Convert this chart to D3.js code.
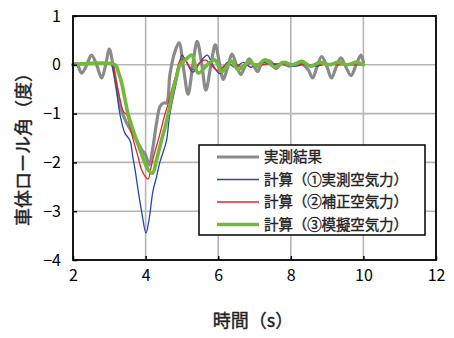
<!DOCTYPE html>
<html>
<head>
<meta charset="utf-8">
<script src="https://cdn.jsdelivr.net/npm/d3@7"></script>
<style>
  body { margin: 0; background: #fff; }
  text { font-family: "Noto Sans CJK JP", "Liberation Sans", sans-serif; }
</style>
</head>
<body>
<div id="chart"></div>
<script>
// tick values
var xTicks = [2, 4, 6, 8, 10, 12];
var yTicks = [1, 0, -1, -2, -3, -4];

// 実測結果 (measured)
var measuredTime = [2.0, 2.1, 2.24, 2.38, 2.51, 2.65, 2.79, 2.9, 3.0, 3.1, 3.2, 3.3, 3.45, 3.6, 3.75, 3.9, 4.0, 4.1, 4.2, 4.3, 4.4, 4.5, 4.58, 4.67, 4.8, 4.92, 5.05, 5.17, 5.3, 5.42, 5.55, 5.66, 5.8, 5.92, 6.03, 6.14, 6.26, 6.38, 6.5, 6.62, 6.73, 6.85, 6.97, 7.08, 7.18, 7.3, 7.45, 7.6, 7.75, 7.95, 8.15, 8.35, 8.48, 8.6, 8.72, 8.85, 9.0, 9.12, 9.25, 9.38, 9.52, 9.66, 9.8, 9.93, 10.0];
var measuredRoll = [0, 0.02, -0.17, 0.0, 0.2, 0.0, -0.27, 0.0, 0.32, 0.0, -0.45, -0.85, -1.15, -1.35, -1.55, -1.75, -1.85, -2.05, -1.7, -1.2, -0.85, -0.78, -0.78, -0.2, 0.25, 0.45, -0.1, -0.6, 0.0, 0.48, 0.0, -0.52, 0.0, 0.41, 0.05, -0.3, -0.05, 0.22, 0.0, -0.2, -0.05, 0.12, 0.0, -0.14, 0.0, 0.08, 0.06, -0.08, 0.04, -0.03, 0.02, 0.0, -0.1, -0.27, -0.05, 0.17, -0.05, -0.27, -0.05, 0.14, -0.05, -0.22, 0.0, 0.2, 0.05];

// 計算(①実測空気力)
var calc1Time = [2.0, 3.05, 3.1, 3.2, 3.29, 3.43, 3.57, 3.65, 3.71, 3.8, 3.9, 4.01, 4.1, 4.2, 4.3, 4.4, 4.5, 4.58, 4.65, 4.75, 4.85, 4.92, 5.0, 5.1, 5.3, 5.5, 5.7, 5.85, 6.05, 6.25, 6.45, 6.7, 6.9, 7.2, 7.5, 7.8, 8.1, 8.4, 8.7, 9.0, 9.3, 9.6, 10.0];
var calc1Roll = [0.02, 0, -0.1, -0.5, -1.0, -1.4, -1.55, -1.9, -2.15, -2.6, -3.05, -3.45, -3.15, -2.6, -2.3, -1.98, -1.75, -1.54, -1.1, -0.7, -0.35, -0.05, 0.2, 0.1, -0.15, 0.05, 0.2, 0.0, -0.18, 0.05, -0.05, 0.05, -0.05, 0.05, 0.0, 0.03, -0.03, 0.02, -0.03, 0.03, 0.0, 0.02, 0.0];

// 計算(②補正空気力)
var calc2Time = [2.0, 3.08, 3.15, 3.25, 3.39, 3.48, 3.55, 3.66, 3.78, 3.89, 4.0, 4.07, 4.15, 4.25, 4.35, 4.45, 4.53, 4.62, 4.72, 4.82, 4.9, 4.98, 5.1, 5.3, 5.5, 5.65, 5.8, 6.0, 6.2, 6.4, 6.6, 6.9, 7.2, 7.5, 7.8, 8.2, 8.6, 9.0, 9.5, 10.0];
var calc2Roll = [0, 0, -0.2, -0.55, -0.96, -1.02, -1.2, -1.54, -1.85, -2.15, -2.3, -2.34, -2.1, -1.8, -1.54, -1.25, -1.02, -0.8, -0.51, -0.25, 0.0, 0.12, 0.08, -0.1, 0.05, 0.1, 0.0, -0.12, 0.0, 0.05, -0.03, 0.03, 0.0, 0.03, 0.0, 0.02, -0.02, 0.02, 0.0, 0.0];

// 計算(③模擬空気力)
var calc3Time = [2.0, 3.16, 3.25, 3.34, 3.43, 3.52, 3.63, 3.75, 3.9, 4.07, 4.19, 4.3, 4.44, 4.53, 4.62, 4.76, 4.85, 4.95, 5.1, 5.27, 5.45, 5.7, 5.91, 6.1, 6.37, 6.55, 6.87, 7.05, 7.29, 7.56, 7.8, 8.05, 8.3, 8.55, 8.8, 9.05, 9.3, 9.55, 9.8, 10.0];
var calc3Roll = [0, 0, -0.15, -0.37, -0.7, -1.02, -1.28, -1.54, -1.85, -2.15, -2.22, -1.95, -1.54, -1.3, -1.02, -0.51, -0.25, 0.0, 0.1, 0.2, -0.17, 0.0, 0.1, -0.14, 0.07, -0.1, 0.07, -0.03, 0.1, -0.05, 0.05, 0.0, 0.07, -0.03, 0.05, 0.0, 0.05, 0.0, 0.05, 0.0];

var seriesNames = ["実測結果", "計算(①実測空気力)", "計算(②補正空気力)", "計算(③模擬空気力)"];
var legendLabels = ["実測結果", "計算（①実測空気力）", "計算（②補正空気力）", "計算（③模擬空気力）"];

var series = [
  {name: seriesNames[0], t: measuredTime, v: measuredRoll, color: "#8a8a8a", width: 3.2},
  {name: seriesNames[1], t: calc1Time, v: calc1Roll, color: "#2447a8", width: 1.3},
  {name: seriesNames[2], t: calc2Time, v: calc2Roll, color: "#e52328", width: 1.3},
  {name: seriesNames[3], t: calc3Time, v: calc3Roll, color: "#72b83a", width: 3.6}
];

var width = 454, height = 338;
var svg = d3.select("#chart").append("svg").attr("width", width).attr("height", height);

var x = d3.scaleLinear().domain([2, 12]).range([73, 436]);
var y = d3.scaleLinear().domain([-4, 1]).range([260, 16]);

// grid
svg.append("g").selectAll("line").data(xTicks.slice(1, -1)).enter().append("line")
  .attr("x1", d => x(d)).attr("x2", d => x(d)).attr("y1", y(1)).attr("y2", y(-4))
  .attr("stroke", "#b5b5b5").attr("stroke-width", 1.6);
svg.append("g").selectAll("line").data(yTicks.slice(1, -1)).enter().append("line")
  .attr("x1", x(2)).attr("x2", x(12)).attr("y1", d => y(d)).attr("y2", d => y(d))
  .attr("stroke", "#b5b5b5").attr("stroke-width", 1.6);

// lines
var line = d3.line().curve(d3.curveCatmullRom.alpha(0.5));
series.forEach(function(s) {
  var pts = s.t.map(function(t, i) { return [x(t), y(s.v[i])]; });
  svg.append("path").attr("d", line(pts)).attr("fill", "none")
    .attr("stroke", s.color).attr("stroke-width", s.width)
    .attr("stroke-linejoin", "round").attr("stroke-linecap", "round");
});

// axes (ticks inward)
var xAxis = d3.axisBottom(x).tickValues(xTicks).tickSize(-4).tickPadding(10)
  .tickFormat(d3.format("d"));
var yAxis = d3.axisLeft(y).tickValues(yTicks).tickSize(-4).tickPadding(12)
  .tickFormat(function(d) { return d < 0 ? "−" + Math.abs(d) : d; });

var gx = svg.append("g").attr("transform", "translate(0," + y(-4) + ")").call(xAxis);
var gy = svg.append("g").attr("transform", "translate(" + x(2) + ",0)").call(yAxis);
[gx, gy].forEach(function(g) {
  g.select(".domain").remove();
  g.selectAll("line").attr("stroke", "#000").attr("stroke-width", 1.5);
  g.selectAll("text").attr("font-family", "'Liberation Sans', Arial, sans-serif")
    .attr("font-size", 16).attr("fill", "#000");
});

// frame
svg.append("rect").attr("x", x(2)).attr("y", y(1))
  .attr("width", x(12) - x(2)).attr("height", y(-4) - y(1))
  .attr("fill", "none").attr("stroke", "#000").attr("stroke-width", 1.8);

// legend
var lg = svg.append("g");
lg.append("rect").attr("x", 199).attr("y", 145).attr("width", 226).attr("height", 90)
  .attr("fill", "#fff").attr("stroke", "#000").attr("stroke-width", 1.5);
series.forEach(function(s, i) {
  var ly = 157 + i * 22.5;
  lg.append("line").attr("x1", 217).attr("x2", 259).attr("y1", ly).attr("y2", ly)
    .attr("stroke", s.color).attr("stroke-width", s.width);
  var t = lg.append("text").attr("x", 264).attr("y", ly).attr("dy", "0.36em")
    .attr("font-size", 14.5).attr("fill", "#222")
    .attr("stroke", "#222").attr("stroke-width", 0.35)
    .text(legendLabels[i]);
  if (i > 0) t.attr("textLength", 144).attr("lengthAdjust", "spacing");
});

// axis titles
svg.append("text").attr("x", 253).attr("y", 327).attr("text-anchor", "middle")
  .attr("font-size", 18).attr("fill", "#222").attr("stroke", "#222").attr("stroke-width", 0.4)
  .text("時間（s）");
svg.append("text").attr("transform", "translate(30,145) rotate(-90)")
  .attr("text-anchor", "middle").attr("font-size", 18)
  .attr("fill", "#222").attr("stroke", "#222").attr("stroke-width", 0.4)
  .text("車体ロール角（度）");
</script>
</body>
</html>
